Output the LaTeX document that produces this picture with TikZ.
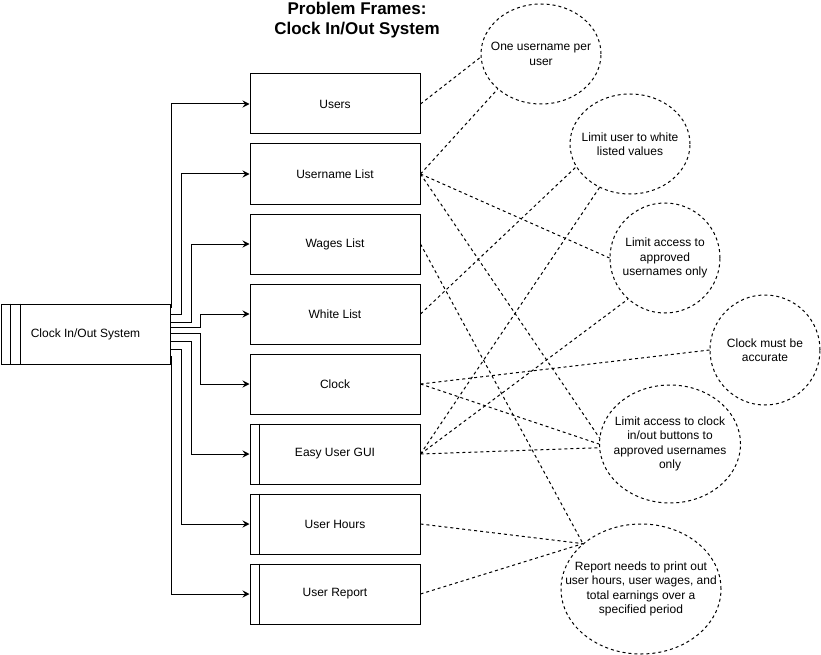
\documentclass[tikz,border=0pt]{standalone}
\usepackage{fontspec}
\setmainfont{Liberation Sans}
\usetikzlibrary{shapes.geometric,arrows.meta}
\begin{document}
\begin{tikzpicture}[x=1pt,y=-1pt,
  every node/.style={font=\fontsize{12}{14.4}\selectfont},
  box/.style={draw,line width=1pt,minimum width=170pt,minimum height=60pt,inner sep=0pt},
  goal/.style={draw,ellipse,line width=1pt,dash pattern=on 3pt off 3pt,inner sep=0pt},
  link/.style={line width=1pt,dash pattern=on 3pt off 3pt},
  arr/.style={line width=1pt,-{Stealth[length=7pt,width=7pt,inset=2.5pt]}},
  inner/.style={line width=1pt}]
\useasboundingbox (0,0) rectangle (821,655);
% title
\node[font=\fontsize{17}{20}\selectfont\bfseries,align=center] (title) at (357,20) {Problem Frames:\\Clock In/Out System};
% system
\node[box,minimum width=169pt] (sys) at (85.5,334) {Clock In/Out System};
\draw[inner] ([xshift=10pt]sys.north west) -- ([xshift=10pt]sys.south west);
\draw[inner] ([xshift=20pt]sys.north west) -- ([xshift=20pt]sys.south west);
% domains
\node[box] (users) at (335,104) {Users};
\node[box] (uname) at (335,174) {Username List};
\node[box] (wages) at (335,244) {Wages List};
\node[box] (white) at (335,314) {White List};
\node[box] (clock) at (335,384) {Clock};
\node[box] (gui) at (335,454) {Easy User GUI};
\node[box] (hours) at (335,524) {User Hours};
\node[box] (report) at (335,594) {User Report};
\foreach \n in {gui,hours,report}
  \draw[inner] ([xshift=10pt]\n.north west) -- ([xshift=10pt]\n.south west);
% connectors from system
\draw[arr] ([yshift=27pt]sys.east) -- ++(1,0) |- (users.west);
\draw[arr] ([yshift=20pt]sys.east) -- ++(11,0) |- (uname.west);
\draw[arr] ([yshift=12pt]sys.east) -- ++(21,0) |- (wages.west);
\draw[arr] ([yshift=7pt]sys.east) -- ++(30,0) |- (white.west);
\draw[arr] ([yshift=1pt]sys.east) -- ++(30,0) |- (clock.west);
\draw[arr] ([yshift=-7pt]sys.east) -- ++(21,0) |- (gui.west);
\draw[arr] ([yshift=-15pt]sys.east) -- ++(11,0) |- (hours.west);
\draw[arr] ([yshift=-22pt]sys.east) -- ++(1,0) |- (report.west);
% requirements
\node[goal,minimum width=120pt,minimum height=100pt] (g1) at (541,54) {};
\node[align=center] (g1t) at (g1) {One username per\\user};
\node[goal,minimum width=120pt,minimum height=100pt] (g2) at (630,144) {};
\node[align=center] (g2t) at (g2) {Limit user to white\\listed values};
\node[goal,minimum width=110pt,minimum height=110pt] (g3) at (665,258) {};
\node[align=center] (g3t) at (g3) {Limit access to\\approved\\usernames only};
\node[goal,minimum width=110pt,minimum height=110pt] (g4) at (765,350) {};
\node[align=center] (g4t) at (g4) {Clock must be\\accurate};
\node[goal,minimum width=141pt,minimum height=118pt] (g5) at (670,444) {};
\node[align=center] (g5t) at (g5) {Limit access to clock\\in/out buttons to\\approved usernames\\only};
\node[goal,minimum width=160pt,minimum height=130pt] (g6) at (641,589) {};
\node[align=center] (g6t) at (g6) {Report needs to print out\\user hours, user wages, and\\total earnings over a\\specified period};
% dashed links
\draw[link] (users.east) -- (g1.183);
\draw[link] (uname.east) -- (g1.219);
\draw[link] (uname.east) -- (g3.180);
\draw[link] (uname.east) -- (g5.175);
\draw[link] (wages.east) -- (g6.142);
\draw[link] (white.east) -- (g2.203);
\draw[link] (clock.east) -- (g4.180);
\draw[link] (clock.east) -- (g5.180);
\draw[link] (gui.east) -- (g2.235);
\draw[link] (gui.east) -- (g3.228);
\draw[link] (gui.east) -- (g5.183);
\draw[link] (hours.east) -- (g6.142);
\draw[link] (report.east) -- (g6.142);
\end{tikzpicture}
\end{document}
